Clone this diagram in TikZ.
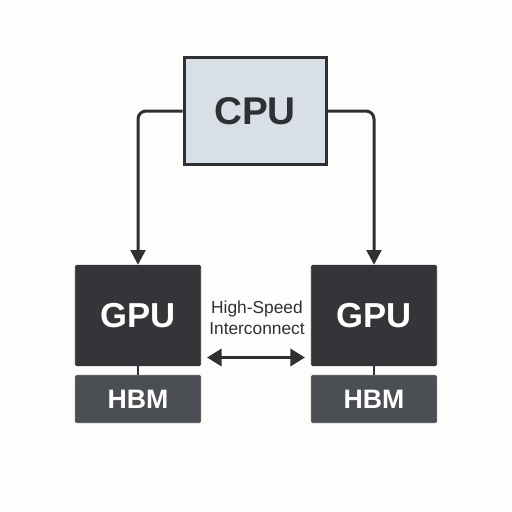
\documentclass[tikz,border=0pt]{standalone}
\usepackage{fontspec}
\setmainfont{Liberation Sans}
\usetikzlibrary{arrows.meta,positioning}
\definecolor{bgpaper}{HTML}{FDFDFB}
\definecolor{edgegray}{HTML}{2E3034}
\definecolor{cpufill}{HTML}{D9DFE7}
\definecolor{gpufill}{HTML}{333538}
\definecolor{hbmfill}{HTML}{4B4E53}
\tikzset{
  cpubox/.style={draw=edgegray, fill=cpufill, line width=2.25pt, minimum width=106.5pt, minimum height=80.25pt, text=edgegray, font=\bfseries\fontsize{29}{29}\selectfont},
  gpubox/.style={draw=gpufill, fill=gpufill, line width=0.6pt, rounded corners=1pt, minimum width=94pt, minimum height=75.5pt, text=white, font=\bfseries\fontsize{26}{26}\selectfont},
  hbmbox/.style={draw=hbmfill, fill=hbmfill, line width=0.6pt, rounded corners=1.5pt, minimum width=94pt, minimum height=35.5pt, text=white, font=\bfseries\fontsize{20}{20}\selectfont},
  feed/.style={draw=edgegray, line width=2.25pt, rounded corners=6pt, -{Triangle[width=11pt,length=11pt]}},
  link/.style={draw=edgegray, line width=1.5pt},
  bus/.style={draw=edgegray, line width=2.25pt, {Triangle[width=13pt,length=11pt]}-{Triangle[width=13pt,length=11pt]}, shorten <=4.5pt, shorten >=4.5pt}
}
\begin{document}
\begin{tikzpicture}[x=0.75pt,y=0.75pt,yscale=-1,xscale=1]
\fill[bgpaper] (0,0) rectangle (512,512);
\useasboundingbox (0,0) rectangle (512,512);

%Shape: CPU
\node[cpubox] (cpu) at (255,111) {CPU};
%Shape: GPUs and memory
\node[gpubox] (gpuL) at (138,315.5) {GPU};
\node[hbmbox] (hbmL) at (138,399) {HBM};
\node[gpubox] (gpuR) at (374,315.5) {GPU};
\node[hbmbox] (hbmR) at (374,399) {HBM};

%Straight Lines: CPU to GPUs
\draw[feed] (cpu.west) -| (gpuL.north);
\draw[feed] (cpu.east) -| (gpuR.north);
%Straight Lines: GPU to HBM
\draw[link] (gpuL.south) -- (hbmL.north);
\draw[link] (gpuR.south) -- (hbmR.north);
%Straight Lines: interconnect
\draw[bus] ([yshift=31.5pt]gpuL.east) -- ([yshift=31.5pt]gpuR.west);

% Text Node
\node[align=center, text=edgegray, font=\fontsize{13}{15.5}\selectfont] (bus label) at (257,318) {High-Speed\\Interconnect};

\end{tikzpicture}
\end{document}
